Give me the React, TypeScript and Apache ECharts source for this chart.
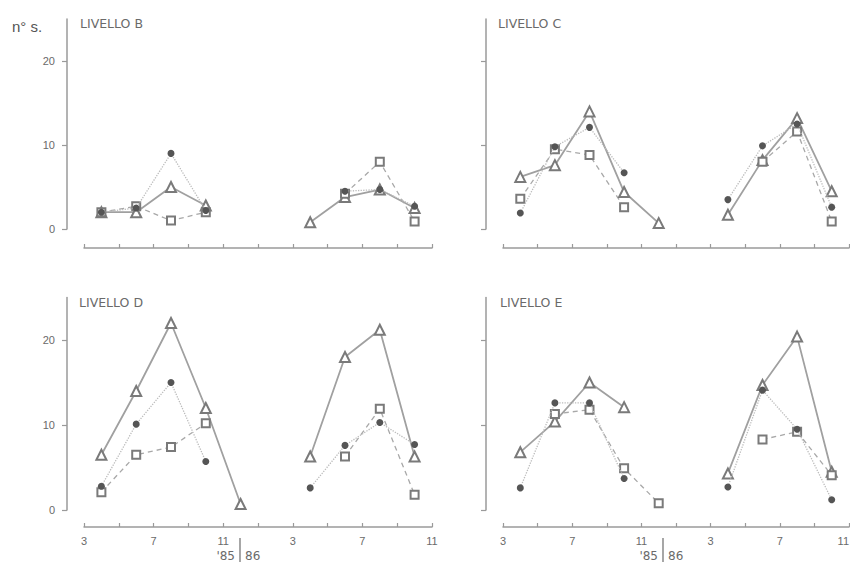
import React, { useEffect, useRef } from "react";
import * as echarts from "echarts";

// month index counted from March 1985 (0) to November 1986 (20)
const MONTHS_85 = [1, 3, 5, 7, 9];
const MONTHS_86 = [13, 15, 17, 19];
const X_TICKS = [0, 2, 4, 6, 8, 10, 12, 14, 16, 18, 20];
const X_LABELS = [0, 4, 8, 12, 16, 20];
const Y_TICKS = [0, 10, 20];

const PANEL_TITLES = ["LIVELLO B", "LIVELLO C", "LIVELLO D", "LIVELLO E"];

// [1985 values], [1986 values]  (null = no sample)
const TRI_B = [[2, 2, 5, 2.8, null], [0.8, 3.8, 4.7, 2.5]];
const DOT_B = [[2, 2.5, 9, 2.2, null], [null, 4.5, 4.7, 2.7]];
const SQ_B = [[2, 2.7, 1, 2, null], [null, 4.2, 8, 0.9]];

const TRI_C = [[6.2, 7.6, 14, 4.4, 0.7], [1.7, 8.2, 13.2, 4.5]];
const DOT_C = [[1.9, 9.8, 12.1, 6.7, null], [3.5, 9.9, 12.5, 2.6]];
const SQ_C = [[3.6, 9.5, 8.8, 2.6, null], [null, 8.0, 11.6, 0.9]];

const TRI_D = [[6.5, 14, 22, 12, 0.7], [6.3, 18, 21.2, 6.3]];
const DOT_D = [[2.8, 10.1, 15, 5.7, null], [2.6, 7.6, 10.3, 7.7]];
const SQ_D = [[2.1, 6.5, 7.4, 10.2, null], [null, 6.3, 11.9, 1.8]];

const TRI_E = [[6.8, 10.4, 15, 12.1, null], [4.3, 14.7, 20.4, 4.5]];
const DOT_E = [[2.6, 12.6, 12.6, 3.7, null], [2.7, 14.1, 9.5, 1.2]];
const SQ_E = [[null, 11.3, 11.8, 4.9, 0.8], [null, 8.3, 9.2, 4.1]];

const PANELS = [
  [TRI_B, DOT_B, SQ_B],
  [TRI_C, DOT_C, SQ_C],
  [TRI_D, DOT_D, SQ_D],
  [TRI_E, DOT_E, SQ_E],
];

const monthLabel = (i: number) => String(((2 + i) % 12) + 1);

function build(groups: (number | null)[][]) {
  const [g1, g2] = groups;
  return [
    ...MONTHS_85.map((m, i) => [m, g1[i] == null ? "-" : g1[i]]),
    [11, "-"],
    ...MONTHS_86.map((m, i) => [m, g2[i] == null ? "-" : g2[i]]),
  ];
}

const FONT = "Liberation Sans";
const TITLE_FONT = "DejaVu Sans";
const AXIS = "#9a9a9a";
const TEXT = "#6a6a6a";

export default function App() {
  const ref = useRef<HTMLDivElement>(null);
  useEffect(() => {
    if (!ref.current) return;
    const chart = echarts.init(ref.current, null, { renderer: "svg" });

    const grids = [
      { left: 84, top: 19, width: 348, height: 210, outerBoundsMode: "none" },
      { left: 503, top: 19, width: 346, height: 210, outerBoundsMode: "none" },
      { left: 84, top: 297.5, width: 348, height: 212.5, outerBoundsMode: "none" },
      { left: 503, top: 297.5, width: 346, height: 212.5, outerBoundsMode: "none" },
    ];

    const xAxis = grids.map((_, gi) => ({
      type: "value",
      gridIndex: gi,
      min: 0,
      max: 20,
      offset: gi < 2 ? 19 : 17,
      axisLine: { onZero: false, lineStyle: { color: AXIS, width: 1.5 } },
      axisTick: {
        inside: true,
        length: 4,
        customValues: X_TICKS,
        lineStyle: { color: AXIS, width: 1.2 },
      },
      axisLabel: {
        show: gi >= 2,
        customValues: X_LABELS,
        formatter: (v: number) => monthLabel(v),
        color: TEXT,
        fontFamily: FONT,
        fontSize: 11,
        margin: 8,
        hideOverlap: false,
        alignMaxLabel: gi === 3 ? "right" : "center",
      },
      splitLine: { show: false },
    }));

    const yAxis = grids.map((_, gi) => ({
      type: "value",
      gridIndex: gi,
      min: 0,
      max: 25,
      offset: 17,
      axisLine: { show: true, onZero: false, lineStyle: { color: AXIS, width: 1.5 } },
      axisTick: {
        show: true,
        length: 5,
        customValues: Y_TICKS,
        lineStyle: { color: AXIS, width: 1.2 },
      },
      axisLabel: {
        show: gi % 2 === 0,
        customValues: Y_TICKS,
        color: TEXT,
        fontFamily: FONT,
        fontSize: 11,
        margin: 12,
      },
      splitLine: { show: false },
    }));

    const series: any[] = [];
    PANELS.forEach((p, gi) => {
      const [tri, dot, sq] = p;
      series.push({
        type: "line",
        xAxisIndex: gi,
        yAxisIndex: gi,
        data: build(tri),
        symbol: "emptyTriangle",
        symbolSize: 10,
        itemStyle: { color: "#7a7a7a", borderWidth: 1.2 },
        lineStyle: { color: "#a0a0a0", width: 1.8, type: "solid" },
        z: 3,
      });
      series.push({
        type: "line",
        xAxisIndex: gi,
        yAxisIndex: gi,
        data: build(dot),
        symbol: "circle",
        symbolSize: 7,
        itemStyle: { color: "#555555" },
        lineStyle: { color: "#bcbcbc", width: 1.3, type: "dotted" },
        z: 4,
      });
      series.push({
        type: "line",
        xAxisIndex: gi,
        yAxisIndex: gi,
        data: build(sq),
        symbol: "emptyRect",
        symbolSize: 8,
        itemStyle: { color: "#7a7a7a", borderWidth: 1.2 },
        lineStyle: { color: "#a8a8a8", width: 1.3, type: [5, 4] },
        z: 3,
      });
    });

    const titlePos = [
      [80, 17],
      [498, 17],
      [79, 296],
      [500, 296],
    ];

    const graphic: any[] = [
      {
        type: "text",
        left: 12,
        top: 19,
        style: { text: "n° s.", fill: "#555", font: `15px ${FONT}` },
      },
      ...PANEL_TITLES.map((t, i) => ({
        type: "text",
        left: titlePos[i][0],
        top: titlePos[i][1],
        style: { text: t, fill: TEXT, font: `12.5px ${TITLE_FONT}` },
      })),
    ];
    [240, 663].forEach((bx) => {
      graphic.push({
        type: "line",
        shape: { x1: bx, y1: 538, x2: bx, y2: 562 },
        style: { stroke: "#777", lineWidth: 1.3 },
      });
      graphic.push({
        type: "text",
        x: bx - 5,
        y: 556,
        style: { text: "'85", fill: TEXT, font: `12px ${TITLE_FONT}`, align: "right", verticalAlign: "middle" },
      });
      graphic.push({
        type: "text",
        x: bx + 5,
        y: 556,
        style: { text: "86", fill: TEXT, font: `12px ${TITLE_FONT}`, align: "left", verticalAlign: "middle" },
      });
    });

    chart.setOption({
      animation: false,
      backgroundColor: "#ffffff",
      grid: grids,
      xAxis,
      yAxis,
      series,
      graphic,
    });
    return () => chart.dispose();
  }, []);
  return (
    <div
      ref={ref}
      style={{ position: "absolute", left: 0, top: 0, width: 850, height: 566 }}
    />
  );
}
